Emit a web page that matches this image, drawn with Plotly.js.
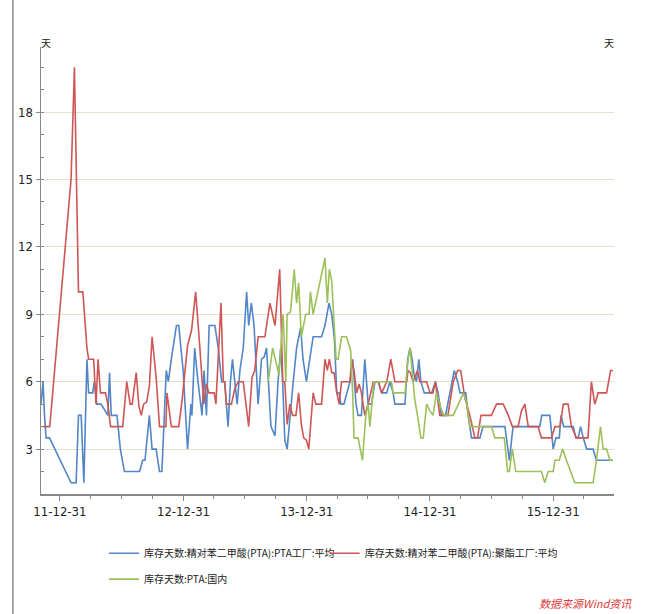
<!DOCTYPE html>
<html>
<head>
<meta charset="utf-8">
<script src="https://cdn.plot.ly/plotly-3.0.1.min.js"></script>
<style>
html,body{margin:0;padding:0;background:#fff;}
#chart{width:648px;height:614px;}
</style>
</head>
<body>
<div id="chart"></div>
<script>
// ---------- data ----------
const seriesNames = [
  "库存天数:精对苯二甲酸(PTA):PTA工厂:平均",
  "库存天数:精对苯二甲酸(PTA):聚酯工厂:平均",
  "库存天数:PTA:国内"
];
const unitLabel = "天";
const sourceText = "数据来源Wind资讯";

const tickDates = ["2011-12-31","2012-12-31","2013-12-31","2014-12-31","2015-12-31"];
const tickLabels = ["11-12-31","12-12-31","13-12-31","14-12-31","15-12-31"];

const ptaDates = ["2011-11-05","2011-11-11","2011-11-15","2011-11-20","2011-11-30","2012-02-02","2012-02-17","2012-02-24","2012-03-03","2012-03-11",
"2012-03-20","2012-03-25","2012-04-06","2012-04-11","2012-04-18","2012-05-01","2012-05-21","2012-05-26","2012-05-31","2012-06-17",
"2012-06-27","2012-07-09","2012-08-23","2012-09-01","2012-09-08","2012-09-21","2012-09-29","2012-10-11","2012-10-21","2012-10-28",
"2012-11-10","2012-11-16","2012-11-25","2012-12-10","2012-12-17","2012-12-30","2013-01-12","2013-01-22","2013-01-25","2013-02-02",
"2013-02-12","2013-02-24","2013-03-02","2013-03-09","2013-03-17","2013-04-03","2013-04-13","2013-04-23","2013-05-02","2013-05-12",
"2013-05-19","2013-05-25","2013-06-01","2013-06-08","2013-06-16","2013-06-26","2013-07-06","2013-07-12","2013-07-20","2013-07-28",
"2013-08-09","2013-08-19","2013-08-27","2013-09-03","2013-09-16","2013-09-28","2013-10-07","2013-10-15","2013-10-21","2013-10-27",
"2013-11-03","2013-11-11","2013-11-21","2013-12-01","2013-12-13","2013-12-20","2013-12-30","2014-01-09","2014-01-19","2014-02-13",
"2014-02-23","2014-03-07","2014-03-15","2014-03-23","2014-03-30","2014-04-06","2014-04-11","2014-04-20","2014-04-28","2014-05-08",
"2014-05-16","2014-05-26","2014-06-01","2014-06-11","2014-06-21","2014-07-01","2014-07-11","2014-07-21","2014-07-31","2014-08-10",
"2014-08-25","2014-09-03","2014-09-13","2014-09-18","2014-10-18","2014-10-26","2014-11-02","2014-11-08","2014-11-14","2014-11-21",
"2014-11-28","2014-12-04","2014-12-14","2015-01-05","2015-01-16","2015-01-24","2015-02-03","2015-02-15","2015-02-28","2015-03-13",
"2015-03-23","2015-03-30","2015-04-16","2015-04-23","2015-05-03","2015-05-28","2015-06-06","2015-08-10","2015-08-23","2015-09-03",
"2015-11-21","2015-11-27","2015-12-21","2015-12-31","2016-01-08","2016-01-18","2016-01-23","2016-01-31","2016-02-28","2016-03-07",
"2016-03-14","2016-03-21","2016-03-29","2016-04-08","2016-04-27","2016-05-07","2016-06-25"];
const ptaValues = [5,6,4.6,3.5,3.5,1.5,1.5,4.5,4.5,1.5,
7,5.5,5.5,6,5,5,4.5,6.4,4.5,4.5,
3,2,2,2.5,2.5,4.5,3,3,2,2,
6.5,6,7,8.5,8.5,6.5,3,5,4.5,7.5,
6,4.5,6.5,4.5,8.5,8.5,7.5,6,6,4,
6,7,6,5,6.5,7.5,10,8.5,9.5,8.5,
5,7,7.1,7.5,4,3.6,6,7.5,5.9,3.4,
3,4.5,6,7.5,8.4,7,6,7,8,8,
8.5,9.5,9,7.9,5.5,5.5,5,5,5.5,6,
7,5,4.5,4.5,7,5,5,6,6,5.5,
5.5,6,5.5,5,5,7,7.5,7,6.3,6,
7,6,5.5,5.5,6,5.5,4.5,4.5,5.5,6.5,
6,5.5,5.5,4.5,3.5,3.5,4,4,2.5,4,
4,4.5,4.5,3,3.5,3.5,4.5,4,4,3.5,
3.5,4,3.5,3,3,2.5,2.5];

const polyDates = ["2011-11-10","2011-12-01","2012-02-02","2012-02-12","2012-02-24","2012-03-08","2012-03-20","2012-03-25","2012-04-09","2012-04-16",
"2012-04-22","2012-04-29","2012-05-14","2012-05-21","2012-05-29","2012-07-04","2012-07-16","2012-07-26","2012-08-01","2012-08-13",
"2012-08-21","2012-08-28","2012-09-04","2012-09-13","2012-09-21","2012-09-29","2012-10-11","2012-10-21","2012-11-09","2012-11-12",
"2012-11-25","2012-12-17","2012-12-27","2013-01-12","2013-01-24","2013-02-05","2013-02-17","2013-03-01","2013-03-09","2013-03-16",
"2013-04-01","2013-04-06","2013-04-21","2013-04-28","2013-05-02","2013-05-07","2013-05-22","2013-06-01","2013-06-11","2013-06-26",
"2013-07-12","2013-07-22","2013-07-30","2013-08-09","2013-08-29","2013-09-13","2013-09-28","2013-10-12","2013-10-21","2013-10-27",
"2013-11-03","2013-11-11","2013-11-19","2013-11-29","2013-12-07","2013-12-15","2013-12-22","2013-12-30","2014-01-06","2014-01-19",
"2014-01-27","2014-02-13","2014-02-23","2014-03-02","2014-03-08","2014-03-15","2014-03-22","2014-03-30","2014-04-06","2014-04-13",
"2014-05-08","2014-05-13","2014-05-20","2014-05-28","2014-06-04","2014-06-11","2014-06-21","2014-07-01","2014-07-16","2014-07-31",
"2014-08-10","2014-08-25","2014-09-06","2014-09-18","2014-10-23","2014-10-27","2014-11-03","2014-11-11","2014-11-24","2014-12-01",
"2014-12-21","2014-12-31","2015-01-09","2015-01-16","2015-01-29","2015-02-22","2015-03-10","2015-03-23","2015-04-01","2015-04-13",
"2015-04-28","2015-05-13","2015-05-21","2015-05-31","2015-07-01","2015-07-16","2015-08-05","2015-08-20","2015-09-01","2015-09-18",
"2015-09-28","2015-10-08","2015-10-18","2015-11-16","2015-11-26","2015-12-26","2016-01-05","2016-01-20","2016-01-30","2016-02-13",
"2016-02-23","2016-03-09","2016-04-12","2016-04-22","2016-05-02","2016-05-12","2016-06-06","2016-06-18","2016-06-25"];
const polyValues = [4,4,15,20,10,10,7.5,7,7,5,
7,5.5,5.5,5,4,4,6,5,5,6.4,
4.9,4.5,5,5.1,5.8,8,6.2,4,4,5.5,
4,4,5.2,7.6,8.3,10,7.6,5,5.9,5.5,
5.5,5,9.5,6,6,5,5,5.7,6,6,
4,6.2,6.5,8,8,9.5,8.5,11,6,6,
4.1,5,4.5,4.5,5.5,4.1,3.5,3.4,3,5.5,
5,5,7,6.5,7,6.4,6.4,5.5,5,6,
6,7,6.5,5.5,5.9,5.5,4.5,5,6,6,
5.5,6,7,6,6,6.5,6.4,6,6.5,6,
6,5.5,5.5,6,4.5,4.5,6,6.5,6.5,5.3,
4.5,3.5,3.5,4.5,4.5,5,5,4.5,4,4,
4.7,5,4,4,3.5,3.5,4,4,5,5,
4,3.5,3.5,6,5,5.5,5.5,6.5,6.5];

const domDates = ["2013-09-08","2013-09-21","2013-10-10","2013-10-22","2013-10-30","2013-11-03","2013-11-13","2013-11-24","2013-12-01","2013-12-07",
"2013-12-15","2013-12-28","2014-01-07","2014-01-11","2014-01-19","2014-02-23","2014-03-02","2014-03-08","2014-03-15","2014-03-28",
"2014-04-03","2014-04-13","2014-04-28","2014-05-10","2014-05-16","2014-05-20","2014-06-01","2014-06-14","2014-06-24","2014-07-01",
"2014-07-06","2014-07-18","2014-09-08","2014-09-13","2014-10-18","2014-10-27","2014-11-02","2014-11-08","2014-11-16","2014-11-24",
"2014-12-04","2014-12-11","2014-12-21","2014-12-31","2015-01-09","2015-01-19","2015-02-03","2015-02-11","2015-03-10","2015-03-25",
"2015-04-09","2015-04-19","2015-04-28","2015-07-01","2015-07-11","2015-08-08","2015-08-18","2015-08-23","2015-09-01","2015-09-11",
"2015-11-26","2015-12-06","2015-12-16","2015-12-31","2016-01-05","2016-01-18","2016-01-28","2016-02-08","2016-02-20","2016-03-04",
"2016-04-27","2016-05-07","2016-05-19","2016-05-27","2016-06-06","2016-06-16","2016-06-25"];
const domValues = [6,7.5,6.3,9,6,9,9.1,11,9.5,10.4,
8,9,9,10,9,11.5,9.5,11,10.5,7,
7,8,8,7.4,5.5,3.5,3.5,2.5,4.5,5,
4,6,6,5.5,5.5,7,7.5,6.5,5.2,4.5,
3.5,3.5,5,4.7,4.5,5.5,4.75,4.5,4.5,5,
5.5,5,4,4,3.5,3.5,2,2,3,2,
2,1.5,2,2,2.5,2.5,3,2.5,2,1.5,
1.5,2.5,4,3,3,2.5,2.5];

// ---------- chart ----------
const colors = ["#5286c6", "#cf5656", "#9cc15a"];
const lw = 1.6;

const traces = [
  {x: ptaDates, y: ptaValues, name: seriesNames[0], type: "scatter", mode: "lines",
   line: {color: colors[0], width: lw}, legend: "legend"},
  {x: polyDates, y: polyValues, name: seriesNames[1], type: "scatter", mode: "lines",
   line: {color: colors[1], width: lw}, legend: "legend3"},
  {x: domDates, y: domValues, name: seriesNames[2], type: "scatter", mode: "lines",
   line: {color: colors[2], width: lw}, legend: "legend2"}
];

// quarterly minor ticks
const minorTicks = [];
for (let y = 2011; y <= 2016; y++) {
  ["03-31","06-30","09-30"].forEach(md => minorTicks.push(y + "-" + md));
}

const axisFont = {family: "'Liberation Sans Narrow', 'DejaVu Sans Condensed', 'Liberation Sans', sans-serif", size: 13, color: "#222"};
const cjkFont = {family: "'Noto Sans CJK SC', sans-serif", size: 10, color: "#222"};
const yRange = [1, 20.9];
const legendBase = {orientation: "h", xanchor: "left", yanchor: "top", font: cjkFont, bgcolor: "rgba(0,0,0,0)", itemwidth: 30};

const layout = {
  width: 648, height: 614,
  margin: {l: 41, r: 34, t: 47, b: 120, pad: 0},
  paper_bgcolor: "#fff", plot_bgcolor: "#fff",
  showlegend: true,
  xaxis: {
    type: "date",
    range: ["2011-11-05", "2016-06-28"],
    tickmode: "array", tickvals: tickDates, ticktext: tickLabels,
    ticks: "outside", ticklen: 5, tickwidth: 1, tickcolor: "#888",
    minor: {tickmode: "array", tickvals: minorTicks, ticks: "outside", ticklen: 3, tickcolor: "#888", showgrid: false},
    showline: true, linecolor: "#888", linewidth: 1.5,
    showgrid: false, zeroline: false,
    tickfont: axisFont
  },
  yaxis: {
    range: yRange, tickmode: "linear", tick0: 0, dtick: 3,
    ticks: "outside", ticklen: 4, tickcolor: "#888",
    minor: {dtick: 1, tick0: 0, ticks: "inside", ticklen: 3, tickcolor: "#888", showgrid: false},
    showline: true, linecolor: "#888", linewidth: 1.5,
    showgrid: true, gridcolor: "#e4e1cf", gridwidth: 1,
    zeroline: false, tickfont: axisFont
  },
  yaxis2: {
    range: yRange, overlaying: "y", side: "right", anchor: "x",
    tickmode: "linear", tick0: 0, dtick: 3,
    ticks: "outside", ticklen: 4, tickcolor: "#888",
    minor: {dtick: 1, tick0: 0, ticks: "inside", ticklen: 3, tickcolor: "#888", showgrid: false},
    showline: true, linecolor: "#888", linewidth: 1.5,
    showgrid: false, zeroline: false, tickfont: axisFont
  },
  legend: Object.assign({}, legendBase, {x: 0.11, y: -0.1}),
  legend3: Object.assign({}, legendBase, {x: 0.495, y: -0.1}),
  legend2: Object.assign({}, legendBase, {x: 0.11, y: -0.158}),
  shapes: [
    {type: "line", xref: "paper", yref: "paper", x0: -0.049, x1: -0.049, y0: -0.27, y1: 1.11,
     line: {color: "#8a8a8a", width: 1.5}}
  ],
  annotations: [
    {xref: "paper", yref: "paper", x: 0.009, y: 1.011, text: unitLabel, showarrow: false,
     xanchor: "center", yanchor: "middle", font: {family: "'Noto Sans CJK SC', sans-serif", size: 10, color: "#222"}},
    {xref: "paper", yref: "paper", x: 0.992, y: 1.011, text: unitLabel, showarrow: false,
     xanchor: "center", yanchor: "middle", font: {family: "'Noto Sans CJK SC', sans-serif", size: 10, color: "#222"}},
    {xref: "paper", yref: "paper", x: 0.951, y: -0.244, text: "<i>" + sourceText + "</i>", showarrow: false,
     xanchor: "center", yanchor: "middle", font: {family: "'Noto Sans CJK SC', sans-serif", size: 11, color: "#e03a3a"}}
  ]
};

Plotly.newPlot("chart", traces, layout, {staticPlot: true, displayModeBar: false});
</script>
</body>
</html>
